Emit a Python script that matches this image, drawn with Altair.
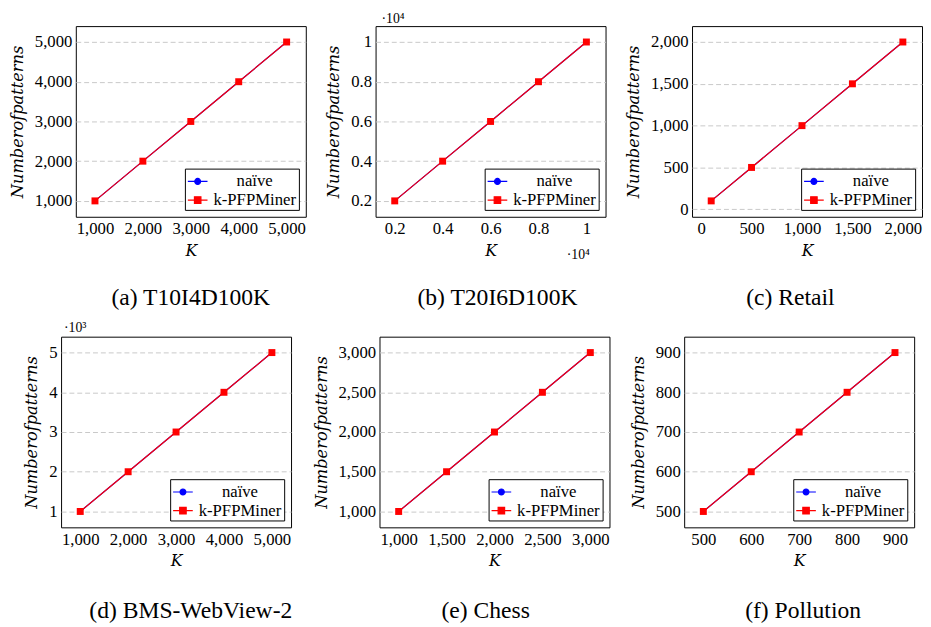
import altair as alt
import pandas as pd

SERIES = ['naïve', 'k-PFPMiner']
COLORS = ['#0000ff', '#ff0000']

# (a) T10I4D100K
a_k = [1000, 2000, 3000, 4000, 5000]
a_naive = [1000, 2000, 3000, 4000, 5000]
a_kpfp = [1000, 2000, 3000, 4000, 5000]
a_xticks = [1000, 2000, 3000, 4000, 5000]
a_yticks = [1000, 2000, 3000, 4000, 5000]

# (b) T20I6D100K
b_k = [2000, 4000, 6000, 8000, 10000]
b_naive = [2000, 4000, 6000, 8000, 10000]
b_kpfp = [2000, 4000, 6000, 8000, 10000]
b_xticks = [2000, 4000, 6000, 8000, 10000]
b_yticks = [2000, 4000, 6000, 8000, 10000]

# (c) Retail
c_k = [100, 500, 1000, 1500, 2000]
c_naive = [100, 500, 1000, 1500, 2000]
c_kpfp = [100, 500, 1000, 1500, 2000]
c_xticks = [0, 500, 1000, 1500, 2000]
c_yticks = [0, 500, 1000, 1500, 2000]

# (d) BMS-WebView-2
d_k = [1000, 2000, 3000, 4000, 5000]
d_naive = [1000, 2000, 3000, 4000, 5000]
d_kpfp = [1000, 2000, 3000, 4000, 5000]
d_xticks = [1000, 2000, 3000, 4000, 5000]
d_yticks = [1000, 2000, 3000, 4000, 5000]

# (e) Chess
e_k = [1000, 1500, 2000, 2500, 3000]
e_naive = [1000, 1500, 2000, 2500, 3000]
e_kpfp = [1000, 1500, 2000, 2500, 3000]
e_xticks = [1000, 1500, 2000, 2500, 3000]
e_yticks = [1000, 1500, 2000, 2500, 3000]

# (f) Pollution
f_k = [500, 600, 700, 800, 900]
f_naive = [500, 600, 700, 800, 900]
f_kpfp = [500, 600, 700, 800, 900]
f_xticks = [500, 600, 700, 800, 900]
f_yticks = [500, 600, 700, 800, 900]

captions = ['(a) T10I4D100K', '(b) T20I6D100K', '(c) Retail',
            '(d) BMS-WebView-2', '(e) Chess', '(f) Pollution']

SERIF = "'Liberation Serif', 'Times New Roman', serif"
MATH = "'DejaVu Serif', serif"

W, H = 234, 194
CIRCLE = "M-1,0H1M-0.3,0A0.3,0.3,0,1,1,0.3,0A0.3,0.3,0,1,1,-0.3,0Z"
SQUARE = "M-1,0H1M-0.33,-0.33H0.33V0.33H-0.33Z"

LEG = alt.Legend(title=None, orient='bottom-right', offset=7, strokeColor='black',
                 fillColor='white', padding=2, labelFont=SERIF,
                 labelFontSize=17, labelColor='black', labelAlign='center',
                 labelOffset=47, symbolSize=400, symbolStrokeWidth=1.2,
                 rowPadding=0, labelLimit=300)


def padded(vals):
    lo, hi = min(vals), max(vals)
    p = 0.1 * (hi - lo)
    return [lo - p, hi + p]


def note(text, x, y, align, color='black'):
    return alt.Chart(pd.DataFrame({'t': [text]})).mark_text(
        align=align, baseline='alphabetic', font=SERIF,
        fontSize=14, color=color).encode(
        x=alt.value(x), y=alt.value(y), text='t:N')


def spacer():
    return alt.Chart(pd.DataFrame({'t': ['']})).mark_text().encode(
        text='t:N').properties(width=1, height=1,
                               view=alt.ViewBackground(strokeOpacity=0))


def panel(k, naive, kpfp, xticks, yticks, caption, cap_dx=0, cap_offset=31,
          xexpr=None, yexpr=None, notes=()):
    n = len(k)
    df = pd.DataFrame({'K': list(k) + list(k),
                       'patterns': list(naive) + list(kpfp),
                       'series': [SERIES[0]] * n + [SERIES[1]] * n})
    xkw = dict(values=xticks, title='K', format=',d')
    if xexpr:
        xkw['labelExpr'] = xexpr
    ykw = dict(values=yticks, title='Numberofpatterns', format=',d')
    if yexpr:
        ykw['labelExpr'] = yexpr
    x = alt.X('K:Q', scale=alt.Scale(domain=padded(k), nice=False, zero=False),
              axis=alt.Axis(**xkw))
    y = alt.Y('patterns:Q', scale=alt.Scale(domain=padded(list(naive) + list(kpfp)),
                                            nice=False, zero=False),
              axis=alt.Axis(**ykw))
    base = alt.Chart(df).encode(x=x, y=y)
    layers = []
    for s, col, shape, size in [(SERIES[0], COLORS[0], 'circle', 30),
                                (SERIES[1], COLORS[1], 'square', 50)]:
        sub = base.transform_filter(alt.datum.series == s)
        layers.append(sub.mark_line(color=col, strokeWidth=1.2))
        layers.append(sub.mark_point(shape=shape, filled=True, size=size,
                                     color=col, opacity=1))
    leg = alt.Chart(pd.DataFrame({'series': pd.Series([], dtype='object')})).mark_point(
        filled=True, opacity=1).encode(
        fill=alt.Fill('series:N', scale=alt.Scale(domain=SERIES, range=COLORS), legend=LEG),
        stroke=alt.Stroke('series:N', scale=alt.Scale(domain=SERIES, range=COLORS), legend=LEG),
        shape=alt.Shape('series:N', scale=alt.Scale(domain=SERIES, range=[CIRCLE, SQUARE]),
                        legend=LEG))
    layers.append(leg)
    for t in notes:
        layers.append(note(*t))
    return alt.layer(*layers).properties(
        width=W, height=H,
        title=alt.TitleParams(caption, orient='bottom', frame='group', anchor='middle',
                              offset=cap_offset, dx=cap_dx, font=SERIF,
                              fontSize=24, fontWeight='normal', color='black'))


pa = panel(a_k, a_naive, a_kpfp, a_xticks, a_yticks, captions[0], cap_dx=0, cap_offset=29)
pb = panel(b_k, b_naive, b_kpfp, b_xticks, b_yticks, captions[1], cap_dx=7, cap_offset=25,
           xexpr="format(datum.value / 10000, '.1~f')",
           yexpr="format(datum.value / 10000, '.1~f')",
           notes=[('·10⁴', 6, -3, 'left'), ('·10⁴', W - 16, H + 43, 'right')])
pc = panel(c_k, c_naive, c_kpfp, c_xticks, c_yticks, captions[2], cap_dx=-17, cap_offset=29)
pd_ = panel(d_k, d_naive, d_kpfp, d_xticks, d_yticks, captions[3], cap_dx=15,
            yexpr="format(datum.value / 1000, 'd')",
            notes=[('·10³', 3, -5, 'left'), ('.', -51, 100, 'left', 'white')])
pe = panel(e_k, e_naive, e_kpfp, e_xticks, e_yticks, captions[4], cap_dx=-9)
pf = panel(f_k, f_naive, f_kpfp, f_xticks, f_yticks, captions[5], cap_dx=4)

RES = dict(fill='independent', stroke='independent', shape='independent')
row1 = alt.hconcat(spacer(), pa, pb, pc, spacing=19).resolve_scale(**RES)
row2 = alt.hconcat(spacer(), pd_, pe, pf, spacing=20).resolve_scale(**RES)

chart = alt.vconcat(row1, row2, spacing=9).resolve_scale(**RES).properties(
    padding={'left': -19, 'top': -2, 'right': 0, 'bottom': 0}
).configure_view(stroke='black', strokeWidth=1).configure_axis(
    labelFont=SERIF, labelFontSize=17, labelColor='black',
    ticks=False, tickSize=0, domain=False, labelOverlap=False, labelFlush=False,
    titleFont=MATH, titleFontStyle='italic', titleFontWeight='normal',
    titleColor='black', gridColor='#c8c8c8', gridDash=[5, 3], gridWidth=1
).configure_axisX(grid=False, labelPadding=4, titlePadding=6, titleFontSize=16
).configure_axisY(grid=True, labelPadding=4, titlePadding=9, titleFontSize=16.5)

chart.save("out.html", embed_options={"renderer": "svg", "actions": False})
